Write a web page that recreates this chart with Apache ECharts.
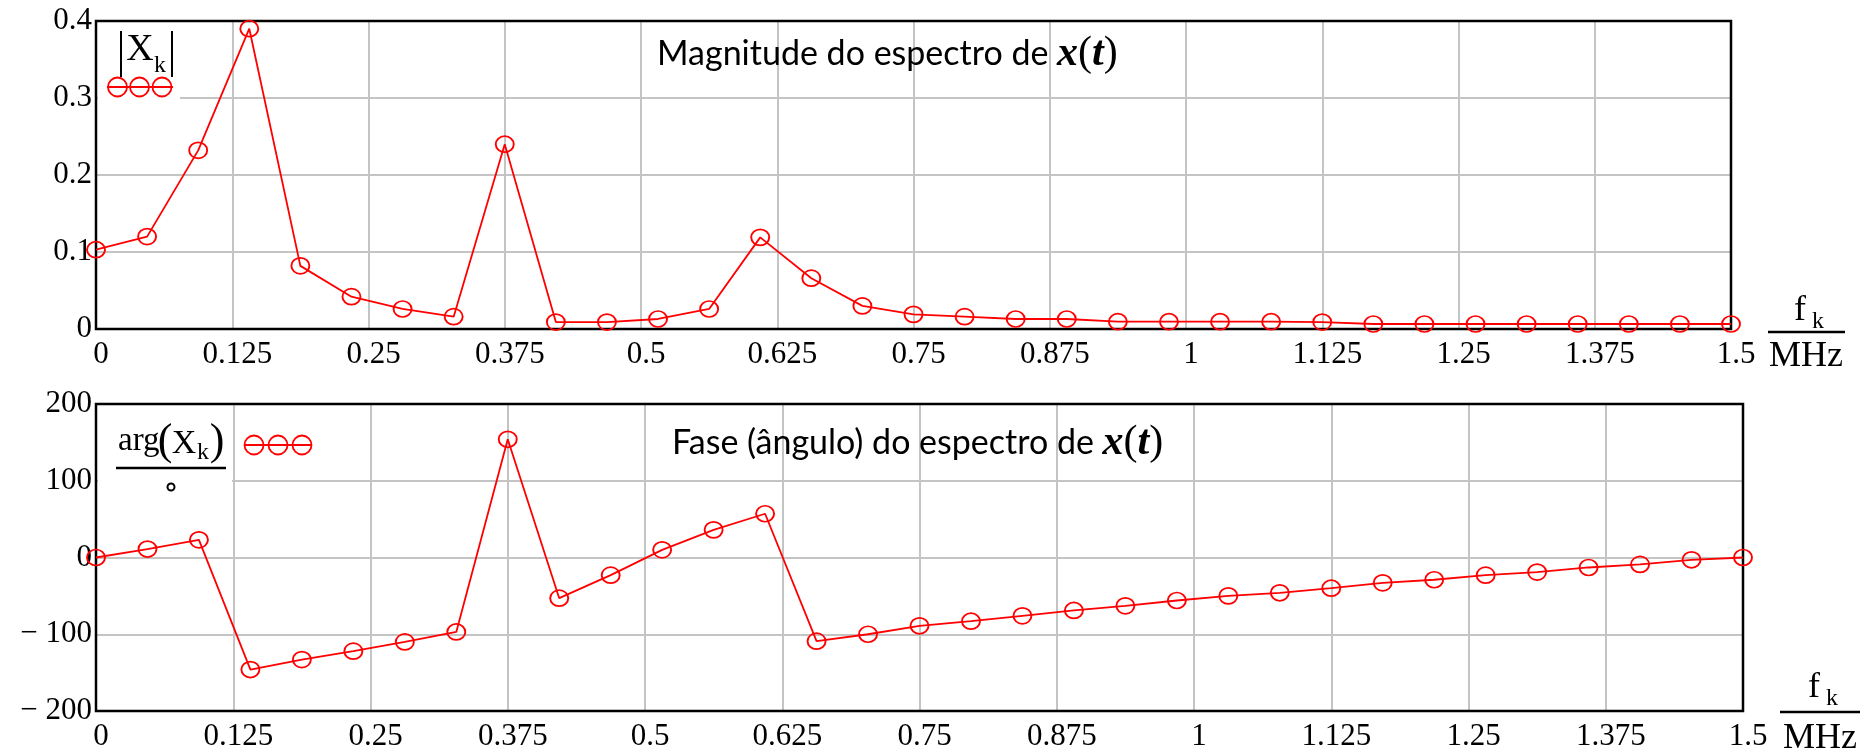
<!DOCTYPE html>
<html>
<head>
<meta charset="utf-8">
<script src="https://cdn.jsdelivr.net/npm/echarts@6/dist/echarts.min.js"></script>
<style>
html,body{margin:0;padding:0;background:#fff;}
#chart{width:1864px;height:752px;}
</style>
</head>
<body>
<div id="chart"></div>
<script>
// ---- data ----
const freqMHz = [0,0.046875,0.09375,0.140625,0.1875,0.234375,0.28125,0.328125,0.375,0.421875,0.46875,0.515625,0.5625,0.609375,0.65625,0.703125,0.75,0.796875,0.84375,0.890625,0.9375,0.984375,1.03125,1.078125,1.125,1.171875,1.21875,1.265625,1.3125,1.359375,1.40625,1.453125,1.5];
const magnitude = [0.103,0.120,0.232,0.390,0.082,0.042,0.026,0.016,0.240,0.009,0.009,0.013,0.026,0.119,0.066,0.030,0.019,0.016,0.013,0.013,0.0095,0.0095,0.0095,0.0095,0.009,0.0065,0.0065,0.0065,0.0065,0.0065,0.0065,0.0065,0.0065];
const phaseDeg = [0,11,23,-146,-133,-122,-110,-97,154,-53,-23,10,36,57,-109,-100,-89,-83,-76,-69,-63,-56,-50,-46,-40,-33,-29,-23,-19,-13,-9,-3,0];
const xTickLabels = ['0','0.125','0.25','0.375','0.5','0.625','0.75','0.875','1','1.125','1.25','1.375','1.5'];
const magTickLabels = ['0','0.1','0.2','0.3','0.4'];
const phaseTickLabels = ['\u2212 200','\u2212 100','0','100','200'];
const titleMag = 'Magnitude do espectro de ';
const titlePhase = 'Fase (\u00e2ngulo) do espectro de ';

const RED = '#ff0000';
const SERIF = '"Liberation Serif", "Times New Roman", serif';
const SANS = 'Lato, "Noto Sans", sans-serif';
const TICK_FS = 31;

function xAxisCfg(gi){
  return {
    gridIndex: gi, type: 'value', min: 0, max: 1.5, interval: 0.125,
    axisLine: {show: false}, axisTick: {show: false},
    splitLine: {show: true, showMinLine: false, showMaxLine: false, lineStyle: {color: '#c4c4c4', width: 2}},
    axisLabel: {
      color: '#000', fontFamily: SERIF, fontSize: TICK_FS, margin: 10, padding: [0,0,0,10],
      showMinLabel: true, showMaxLabel: true,
      formatter: v => xTickLabels[Math.round(v / 0.125)]
    }
  };
}
function yAxisCfg(gi, min, max, interval, labels){
  return {
    gridIndex: gi, type: 'value', min: min, max: max, interval: interval,
    axisLine: {show: false}, axisTick: {show: false},
    splitLine: {show: true, showMinLine: false, showMaxLine: false, lineStyle: {color: '#c4c4c4', width: 2}},
    axisLabel: {
      color: '#000', fontFamily: SERIF, fontSize: TICK_FS, margin: 4, padding: [6,0,0,0],
      formatter: v => labels[Math.round((v - min) / interval)]
    }
  };
}
function seriesCfg(gi, values){
  return {
    type: 'line', xAxisIndex: gi, yAxisIndex: gi,
    data: freqMHz.map((f, i) => [f, values[i]]),
    symbol: 'circle', symbolSize: [18, 16],
    lineStyle: {color: RED, width: 1.8},
    itemStyle: {color: 'rgba(0,0,0,0)', borderColor: RED, borderWidth: 1.8},
    clip: false, z: 3
  };
}

function legendSymbols(x0, x1, y, centers){
  const els = [{type: 'line', shape: {x1: x0, y1: y, x2: x1, y2: y}, style: {stroke: RED, lineWidth: 1.8}, z: 101}];
  centers.forEach(cx => els.push({type: 'circle', shape: {cx: cx, cy: y, r: 9.5}, style: {fill: 'rgba(0,0,0,0)', stroke: RED, lineWidth: 1.8}, z: 101}));
  return els;
}
function txt(x, y, text, size, font, align){
  return {type: 'text', x: x, y: y, z: 102,
    style: {text: text, fontSize: size, fontFamily: font, fill: '#000', align: align || 'center', verticalAlign: 'middle'}};
}
function titleText(x, y, head){
  return {type: 'text', x: x, y: y, z: 102, style: {
    text: '{t|' + head + '}{m|x}{p|(}{m|t}{p|)}',
    verticalAlign: 'middle', align: 'left',
    rich: {
      t: {fontFamily: SANS, fontSize: 34, color: '#000', verticalAlign: 'middle'},
      m: {fontFamily: SERIF, fontSize: 42, fontWeight: 'bold', fontStyle: 'italic', color: '#000', verticalAlign: 'middle'},
      p: {fontFamily: SERIF, fontSize: 42, color: '#000', verticalAlign: 'middle'}
    }
  }};
}

const graphic = [
  // top legend
  {type: 'rect', shape: {x: 98, y: 24, width: 82, height: 77}, style: {fill: '#fff'}, z: 100},
  {type: 'line', shape: {x1: 121, y1: 31, x2: 121, y2: 77}, style: {stroke: '#000', lineWidth: 2}, z: 101},
  {type: 'line', shape: {x1: 172, y1: 31, x2: 172, y2: 77}, style: {stroke: '#000', lineWidth: 2}, z: 101},
  txt(140, 50, 'X', 38, SERIF),
  txt(160, 66, 'k', 24, SERIF),
  ...legendSymbols(107, 173, 87, [117.5, 139.5, 162]),
  // bottom legend
  {type: 'rect', shape: {x: 98, y: 407, width: 134, height: 95}, style: {fill: '#fff'}, z: 100},
  txt(118, 441, 'arg', 33, SERIF, 'left'),
  txt(165, 442, '(', 44, SERIF),
  txt(184, 444, 'X', 34, SERIF),
  txt(203, 453, 'k', 24, SERIF),
  txt(217, 442, ')', 44, SERIF),
  {type: 'line', shape: {x1: 116, y1: 468, x2: 226, y2: 468}, style: {stroke: '#000', lineWidth: 2.5}, z: 101},
  {type: 'circle', shape: {cx: 171, cy: 487, r: 3.5}, style: {fill: 'rgba(0,0,0,0)', stroke: '#000', lineWidth: 2}, z: 101},
  ...legendSymbols(245, 312, 445, [254, 278, 302]),
  // titles
  titleText(657, 54, titleMag),
  titleText(672, 443, titlePhase),
  // x-axis name fractions
  txt(1800, 311, 'f', 36, SERIF), txt(1818, 322, 'k', 24, SERIF),
  {type: 'line', shape: {x1: 1768, y1: 332, x2: 1845, y2: 332}, style: {stroke: '#000', lineWidth: 2.5}, z: 101},
  txt(1806, 357, 'MHz', 36, SERIF),
  txt(1814, 688, 'f', 36, SERIF), txt(1832, 699, 'k', 24, SERIF),
  {type: 'line', shape: {x1: 1780, y1: 712, x2: 1860, y2: 712}, style: {stroke: '#000', lineWidth: 2.5}, z: 101},
  txt(1820, 739, 'MHz', 36, SERIF)
];

const chart = echarts.init(document.getElementById('chart'), null, {renderer: 'canvas'});
chart.setOption({
  animation: false,
  backgroundColor: '#fff',
  grid: [
    {left: 96, top: 21, width: 1635, height: 308, show: true, borderColor: '#000', borderWidth: 2.5, backgroundColor: 'rgba(0,0,0,0)', z: 2},
    {left: 96, top: 404, width: 1647, height: 308, show: true, borderColor: '#000', borderWidth: 2.5, backgroundColor: 'rgba(0,0,0,0)', z: 2}
  ],
  xAxis: [xAxisCfg(0), xAxisCfg(1)],
  yAxis: [yAxisCfg(0, 0, 0.4, 0.1, magTickLabels), yAxisCfg(1, -200, 200, 100, phaseTickLabels)],
  series: [seriesCfg(0, magnitude), seriesCfg(1, phaseDeg)],
  graphic: graphic
});
</script>
</body>
</html>
